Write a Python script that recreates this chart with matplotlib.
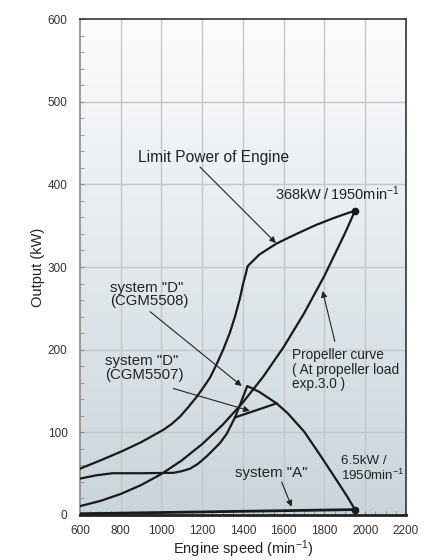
import numpy as np
import matplotlib
matplotlib.use("Agg")
import matplotlib.pyplot as plt
from matplotlib.colors import LinearSegmentedColormap

plt.rcParams['font.family'] = ['Liberation Sans', 'DejaVu Sans']
plt.rcParams['mathtext.fontset'] = 'custom'
plt.rcParams['mathtext.rm'] = 'Liberation Sans'
plt.rcParams['mathtext.it'] = 'Liberation Sans:italic'

# curves (engine speed min-1, output kW)
limit_x = [600, 700, 805, 900, 1009, 1050, 1091, 1130, 1173, 1205, 1238, 1270,
           1303, 1335, 1361, 1385, 1401, 1412, 1423,
           1480, 1562, 1620, 1680, 1760, 1843, 1900, 1950]
limit_y = [56, 66, 77, 88, 103, 110, 119, 130, 143, 154, 166, 182,
           200, 220, 240, 262, 280, 290, 301,
           315, 328, 335, 342, 351, 359, 364, 368]

prop_x = [600, 700, 800, 900, 1000, 1100, 1200, 1300, 1400, 1500, 1600, 1700,
          1800, 1900, 1950]
prop_y = [10.7, 17, 25.4, 36.2, 49.6, 66.1, 85.8, 109, 136.2, 167.5, 203.3,
          243.9, 289.4, 340.4, 368]

# shared low part of system "D"
sysd_x = [600, 680, 760, 900, 1060, 1100, 1140, 1180, 1222, 1255, 1287, 1320, 1361]
sysd_y = [44, 48, 50.5, 50.5, 51, 53, 56, 62, 71, 79, 87, 98, 118]

# CGM5508 continues to its peak, then falls to the end point
d5508_x = [1361, 1390, 1421, 1480, 1565, 1620, 1700, 1780, 1860, 1910, 1950]
d5508_y = [118, 136, 156, 149, 135, 123, 101, 72, 42, 23, 6.5]

# CGM5507 branch from the kink to the falling curve
d5507_x = [1361, 1565]
d5507_y = [118, 135]

sysa_x = [600, 1950]
sysa_y = [1.5, 6.5]

x_ticks = [600, 800, 1000, 1200, 1400, 1600, 1800, 2000, 2200]
y_ticks = [0, 100, 200, 300, 400, 500, 600]

fig = plt.figure(figsize=(4.3, 5.6), dpi=100)
ax = fig.add_axes([0.186, 0.0804, 0.758, 0.8856])

# background gradient: white at top, grey-blue at bottom
cmap = LinearSegmentedColormap.from_list('bg', ['#c9d5dc', '#fcfcfd'])
grad = np.linspace(0, 1, 256).reshape(-1, 1)
ax.imshow(grad, extent=[600, 2200, 0, 600], aspect='auto', cmap=cmap,
          origin='lower', zorder=0)

for xv in x_ticks[1:-1]:
    ax.axvline(xv, color='#c4c6c8', lw=1, zorder=1)
for yv in y_ticks[1:-1]:
    ax.axhline(yv, color='#c4c6c8', lw=1, zorder=1)

lc = '#1a1a1a'
lw = 1.6
ax.plot(limit_x, limit_y, color=lc, lw=lw, zorder=3)
ax.plot(prop_x, prop_y, color=lc, lw=lw, zorder=3)
ax.plot(sysd_x, sysd_y, color=lc, lw=lw, zorder=3)
ax.plot(d5508_x, d5508_y, color=lc, lw=lw, zorder=3)
ax.plot(d5507_x, d5507_y, color=lc, lw=lw, zorder=3)
ax.plot(sysa_x, sysa_y, color=lc, lw=2, zorder=3)
ax.plot([1950, 1950], [368, 6.5], 'o', color=lc, ms=4.5, zorder=4)

ax.set_xlim(600, 2200)
ax.set_ylim(0, 600)
ax.set_xticks(x_ticks)
ax.set_yticks(y_ticks)
ax.set_xticks(np.arange(600, 2201, 50), minor=True)
ax.set_yticks(np.arange(0, 601, 20), minor=True)
ax.tick_params(which='both', direction='in', length=3, color='#888888',
               labelsize=8.5, labelcolor='#333333')
ax.tick_params(axis='y', pad=9)
ax.tick_params(axis='x', pad=7)

for s in ['top', 'right']:
    ax.spines[s].set_color('#333333')
    ax.spines[s].set_linewidth(1.2)
ax.spines['left'].set_color('#8a8a8a')
ax.spines['left'].set_linewidth(1.2)
ax.spines['bottom'].set_color('#222222')
ax.spines['bottom'].set_linewidth(2)

ax.set_xlabel('Engine speed (min$^{-1}$)', fontsize=10.5, color='#222222', labelpad=1)
ax.set_ylabel('Output (kW)', fontsize=10.5, color='#222222', labelpad=2)

tc = '#222222'
arr = dict(arrowstyle='-|>', lw=0.8, color=tc, mutation_scale=9,
           shrinkA=0, shrinkB=0)

ax.annotate('', xy=(1562, 329), xytext=(1189, 421), arrowprops=arr, zorder=5)
ax.text(885, 432, 'Limit Power of Engine', fontsize=11.2, color=tc, va='center')

ax.text(1557, 389, '368kW\u2009/\u20091950min$^{-1}$', fontsize=10.5, color=tc,
        va='center')

ax.annotate('', xy=(1394, 156), xytext=(944, 246), arrowprops=arr, zorder=5)
ax.text(747, 267, 'system "D"\n(CGM5508)', fontsize=10.8, color=tc,
        va='center', linespacing=0.95)

ax.annotate('', xy=(1434, 126), xytext=(1058, 153), arrowprops=arr, zorder=5)
ax.text(723, 178, 'system "D"\n(CGM5507)', fontsize=10.8, color=tc,
        va='center', linespacing=0.95)

ax.annotate('', xy=(1791, 271), xytext=(1851, 210), arrowprops=arr, zorder=5)
ax.text(1639, 176, 'Propeller curve\n( At propeller load\nexp.3.0 )',
        fontsize=9.8, color=tc, va='center', linespacing=1.05)

ax.text(1880, 56, '6.5kW /\n1950min$^{-1}$', fontsize=9.6, color=tc,
        va='center', linespacing=1.05)

ax.annotate('', xy=(1639, 10), xytext=(1590, 40), arrowprops=arr, zorder=5)
ax.text(1361, 51, 'system "A"', fontsize=10.8, color=tc, va='center')

fig.savefig('out.png', dpi=100)
